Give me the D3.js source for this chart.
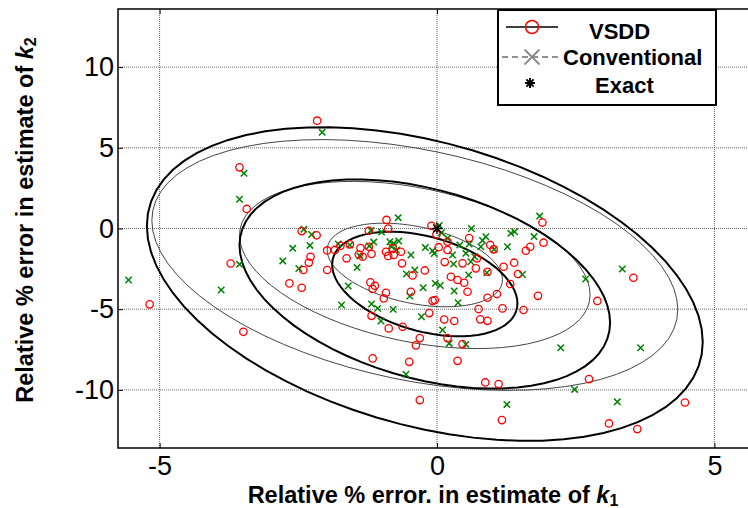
<!DOCTYPE html>
<html>
<head>
<meta charset="utf-8">
<script src="https://cdn.jsdelivr.net/npm/d3@7"></script>
<style>
body { margin: 0; background: #fff; }
text { font-family: Arial, "Liberation Sans", sans-serif; }
</style>
</head>
<body>
<div id="chart"></div>
<script>

var xTicks = [-5, 0, 5];
var yTicks = [-10, -5, 0, 5, 10];

// relative % errors (k1, k2) for each run
var vsdd = [[-2.16,6.68],[-3.56,3.79],[-3.43,1.21],[-0.91,0.53],[-0.10,0.17],[1.90,0.37],[-2.44,-0.16],[-2.17,-0.42],
	[-1.23,-0.14],[-0.88,0.00],[-0.01,-0.37],[0.03,-1.16],[0.19,-1.33],[-1.98,-1.36],[-1.84,-1.33],[-1.74,-1.07],
	[-1.57,-0.98],[-1.38,-1.21],[-1.34,-1.75],[-1.23,-1.13],[-1.18,-1.58],[-1.41,-1.61],[-1.63,-1.85],[-2.28,-1.75],
	[-2.31,-2.11],[-2.41,-2.57],[-1.98,-2.57],[-0.92,-1.44],[-0.88,-1.70],[-0.78,-1.64],[-0.65,-1.44],[-0.63,-2.16],
	[-0.44,-2.91],[-0.22,-2.60],[0.14,-2.08],[-3.72,-2.17],[-2.66,-3.40],[-2.44,-3.67],[-1.20,-3.34],[-1.12,-3.55],
	[-1.16,-3.75],[-0.92,-3.98],[-0.96,-4.33],[-0.47,-3.92],[-0.08,-4.48],[-0.04,-4.43],[-1.18,-5.41],[-0.87,-6.19],
	[-0.62,-6.09],[-0.14,-5.24],[0.13,-5.64],[-0.31,-6.79],[-0.38,-7.24],[0.19,-6.79],[-5.18,-4.70],[-3.49,-6.40],
	[-1.16,-8.05],[-0.50,-8.26],[-0.31,-10.63],[0.58,-0.59],[0.19,-0.82],[0.96,-1.02],[1.02,-1.29],[1.60,-1.38],
	[1.68,-1.13],[1.92,-0.88],[0.46,-2.16],[0.72,-1.85],[0.70,-2.47],[1.20,-2.37],[1.39,-2.12],[1.46,-2.82],
	[0.25,-2.99],[0.37,-3.19],[0.49,-3.36],[1.32,-3.44],[0.55,-3.92],[0.91,-4.29],[1.08,-4.06],[1.82,-4.17],
	[3.54,-3.05],[2.89,-4.49],[0.75,-4.99],[1.18,-4.95],[1.56,-5.05],[0.31,-5.73],[0.78,-5.63],[0.91,-5.72],
	[0.46,-7.16],[0.37,-8.20],[0.87,-9.54],[1.11,-9.64],[2.74,-9.33],[1.17,-11.87],[3.10,-12.08],[3.61,-12.43],
	[4.47,-10.78],[-0.80,-1.23],[0.91,-2.68]];

var conventional = [[-2.07,5.96],[-3.48,3.42],[-3.56,1.81],[-0.70,0.67],[0.04,0.19],[0.08,-0.26],[1.85,0.77],[0.62,0.00],
	[-5.56,-3.19],[-3.89,-3.81],[-3.56,-2.22],[-2.78,-2.01],[-2.60,-1.23],[-2.40,-0.05],[-2.26,-0.37],[-2.29,-1.05],
	[-2.49,-2.48],[-1.78,-0.96],[-1.57,-1.02],[-1.39,-1.70],[-1.22,-1.08],[-1.14,-0.84],[-1.00,-0.22],[-1.19,-0.12],
	[-1.44,-2.42],[-1.60,-3.56],[-1.72,-4.74],[-1.18,-4.68],[-1.07,-4.95],[-1.01,-5.73],[-0.79,-5.01],[-0.85,-0.82],
	[-0.78,-0.92],[-0.82,-1.13],[-0.73,-1.33],[-0.47,-1.64],[-0.55,-2.82],[-0.40,-2.57],[-0.49,-4.18],[-0.25,-3.67],
	[-0.28,-5.47],[-0.03,-3.40],[0.06,-3.53],[-0.21,-1.18],[-0.08,-1.38],[-0.05,-1.55],[0.10,-6.29],[0.22,-7.12],
	[-0.56,-9.03],[1.33,-0.30],[1.40,-0.20],[1.75,-0.50],[0.88,-0.51],[0.82,-0.74],[0.41,-1.02],[0.58,-0.96],
	[0.79,-1.13],[1.03,-1.29],[1.27,-1.13],[0.28,-1.64],[0.52,-1.54],[0.68,-1.75],[0.30,-2.20],[0.61,-2.06],
	[0.90,-2.74],[0.57,-2.88],[1.54,-2.85],[0.31,-3.87],[0.38,-4.60],[0.52,-7.18],[2.23,-7.39],[2.68,-3.13],
	[3.34,-2.51],[3.67,-7.39],[2.48,-9.97],[1.26,-10.90],[3.25,-10.74],[0.19,-0.61],[-0.69,-0.78]];

var exact = [[0, 0]];

// confidence ellipses: centre, std devs, correlation; drawn at 1,2,3 sigma
var vsddFit = {cx: -0.22, cy: -3.44, sx: 1.67, sy: 3.24, rho: -0.37};
var convFit = {cx: -0.40, cy: -2.26, sx: 1.58, sy: 2.59, rho: -0.355};
var sigmaLevels = [1, 2, 3];

var margin = {top: 9, left: 118},
	width = 638,
	height = 439;

var svg = d3.select("#chart")
	.append("svg")
	.attr("width", 748)
	.attr("height", 508);

var xScale = d3.scaleLinear().domain([-5.75, 5.75]).range([0, width]);
var yScale = d3.scaleLinear().domain([-13.6, 13.6]).range([height, 0]);

svg.append("defs").append("clipPath").attr("id", "clip")
	.append("rect").attr("width", width).attr("height", height);

var g = svg.append("g")
	.attr("transform", "translate(" + margin.left + "," + margin.top + ")");

// grid
g.selectAll("line.gx").data(xTicks).enter().append("line")
	.attr("x1", function (d) { return xScale(d); })
	.attr("x2", function (d) { return xScale(d); })
	.attr("y1", 0).attr("y2", height)
	.attr("stroke", "#666").attr("stroke-width", 1).attr("stroke-dasharray", "1,1");
g.selectAll("line.gy").data(yTicks).enter().append("line")
	.attr("y1", function (d) { return yScale(d); })
	.attr("y2", function (d) { return yScale(d); })
	.attr("x1", 0).attr("x2", width)
	.attr("stroke", "#666").attr("stroke-width", 1).attr("stroke-dasharray", "1,1");

var plot = g.append("g").attr("clip-path", "url(#clip)");

function ellipse(fit, k) {
	var pts = [];
	var c = Math.sqrt(1 - fit.rho * fit.rho);
	for (var i = 0; i < 72; i++) {
		var t = i / 72 * 2 * Math.PI;
		var u = Math.cos(t), v = Math.sin(t);
		pts.push([fit.cx + k * fit.sx * u, fit.cy + k * fit.sy * (fit.rho * u + c * v)]);
	}
	return pts;
}

var line = d3.line()
	.x(function (d) { return xScale(d[0]); })
	.y(function (d) { return yScale(d[1]); })
	.curve(d3.curveLinearClosed);

plot.selectAll("path.conv").data(sigmaLevels).enter().append("path")
	.attr("d", function (k) { return line(ellipse(convFit, k)); })
	.attr("fill", "none").attr("stroke", "#444").attr("stroke-width", 1);

plot.selectAll("path.vsdd").data(sigmaLevels).enter().append("path")
	.attr("d", function (k) { return line(ellipse(vsddFit, k)); })
	.attr("fill", "none").attr("stroke", "#000").attr("stroke-width", 2);

function cross(r) {
	return "M" + (-r) + "," + (-r) + "L" + r + "," + r + "M" + (-r) + "," + r + "L" + r + "," + (-r);
}
function star(r) {
	var a = r * 0.72;
	return "M" + (-r) + ",0L" + r + ",0M0," + (-r) + "L0," + r + cross(a);
}

plot.selectAll("path.cx").data(conventional).enter().append("path")
	.attr("transform", function (d) { return "translate(" + xScale(d[0]) + "," + yScale(d[1]) + ")"; })
	.attr("d", cross(3.2))
	.attr("stroke", "#008000").attr("stroke-width", 1.5).attr("fill", "none");

plot.selectAll("circle").data(vsdd).enter().append("circle")
	.attr("cx", function (d) { return xScale(d[0]); })
	.attr("cy", function (d) { return yScale(d[1]); })
	.attr("r", 3.7)
	.attr("fill", "none").attr("stroke", "#ff0000").attr("stroke-width", 1.3);

plot.selectAll("path.ex").data(exact).enter().append("path")
	.attr("transform", function (d) { return "translate(" + xScale(d[0]) + "," + yScale(d[1]) + ")"; })
	.attr("d", star(5.5))
	.attr("stroke", "#000").attr("stroke-width", 1.3).attr("fill", "none");

// axes, MATLAB style ticks inside
var plain = function (d) { return String(d); };
var xAxis = d3.axisBottom(xScale).tickValues(xTicks).tickSize(-5).tickPadding(8).tickFormat(plain);
var yAxis = d3.axisLeft(yScale).tickValues(yTicks).tickSize(-5).tickPadding(4).tickFormat(plain);

var gx = g.append("g").attr("transform", "translate(0," + height + ")").call(xAxis);
var gxt = g.append("g").call(d3.axisTop(xScale).tickValues(xTicks).tickSize(-5).tickFormat(""));
var gy = g.append("g").call(yAxis);
[gx, gxt, gy].forEach(function (a) {
	a.select(".domain").remove();
	a.selectAll("line").attr("stroke", "#000");
	a.selectAll("text").attr("font-size", "27px").attr("fill", "#000")
		.style("font-family", "Arial, 'Liberation Sans', sans-serif");
});

g.append("rect")
	.attr("width", width).attr("height", height)
	.attr("fill", "none").attr("stroke", "#000").attr("stroke-width", 1.5);

// axis labels
var xl = svg.append("text")
	.attr("x", 433).attr("y", 503)
	.attr("text-anchor", "middle").attr("font-size", "23.5px").attr("font-weight", "bold");
xl.append("tspan").text("Relative % error. in estimate of ");
xl.append("tspan").attr("font-style", "italic").text("k");
xl.append("tspan").attr("font-size", "16px").attr("dy", 3).text("1");

var yl = svg.append("text")
	.attr("transform", "translate(33,220) rotate(-90)")
	.attr("text-anchor", "middle").attr("font-size", "23.5px").attr("font-weight", "bold");
yl.append("tspan").text("Relative % error in estimate of ");
yl.append("tspan").attr("font-style", "italic").text("k");
yl.append("tspan").attr("font-size", "16px").attr("dy", 3).text("2");

// legend
var lg = svg.append("g").attr("transform", "translate(498,10)");
lg.append("rect").attr("width", 218).attr("height", 95)
	.attr("fill", "#fff").attr("stroke", "#000").attr("stroke-width", 2);

lg.append("line").attr("x1", 8).attr("x2", 60).attr("y1", 17).attr("y2", 17)
	.attr("stroke", "#000").attr("stroke-width", 1.5);
lg.append("circle").attr("cx", 34).attr("cy", 17).attr("r", 6.5)
	.attr("fill", "none").attr("stroke", "#ff0000").attr("stroke-width", 1.5);
lg.append("text").attr("x", 91).attr("y", 29).attr("font-size", "22px").attr("font-weight", "bold").text("VSDD");

lg.append("line").attr("x1", 4).attr("x2", 64).attr("y1", 47).attr("y2", 47)
	.attr("stroke", "#222").attr("stroke-width", 1).attr("stroke-dasharray", "6,4");
lg.append("path").attr("transform", "translate(34,47)").attr("d", cross(7.5))
	.attr("stroke", "#888").attr("stroke-width", 1.8).attr("fill", "none");
lg.append("text").attr("x", 65).attr("y", 55).attr("font-size", "22px").attr("font-weight", "bold").text("Conventional");

lg.append("path").attr("transform", "translate(32,73)").attr("d", star(5))
	.attr("stroke", "#000").attr("stroke-width", 2).attr("fill", "none");
lg.append("text").attr("x", 97).attr("y", 83).attr("font-size", "22px").attr("font-weight", "bold").text("Exact");

</script>
</body>
</html>
